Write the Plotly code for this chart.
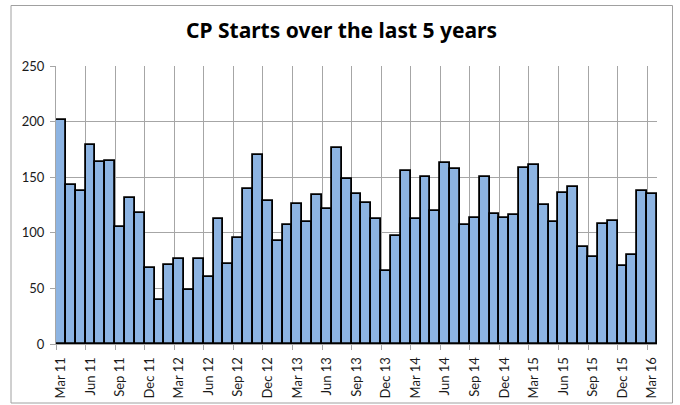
import plotly.graph_objects as go

months = [
    "Mar 11", "Apr 11", "May 11", "Jun 11", "Jul 11", "Aug 11", "Sep 11", "Oct 11", "Nov 11", "Dec 11",
    "Jan 12", "Feb 12", "Mar 12", "Apr 12", "May 12", "Jun 12", "Jul 12", "Aug 12", "Sep 12", "Oct 12",
    "Nov 12", "Dec 12", "Jan 13", "Feb 13", "Mar 13", "Apr 13", "May 13", "Jun 13", "Jul 13", "Aug 13",
    "Sep 13", "Oct 13", "Nov 13", "Dec 13", "Jan 14", "Feb 14", "Mar 14", "Apr 14", "May 14", "Jun 14",
    "Jul 14", "Aug 14", "Sep 14", "Oct 14", "Nov 14", "Dec 14", "Jan 15", "Feb 15", "Mar 15", "Apr 15",
    "May 15", "Jun 15", "Jul 15", "Aug 15", "Sep 15", "Oct 15", "Nov 15", "Dec 15", "Jan 16", "Feb 16",
    "Mar 16",
]

cp_starts = [
    201, 143, 138, 179, 164, 165, 105, 131, 118, 68,
    40, 71, 76, 49, 76, 60, 112, 72, 95, 139,
    170, 129, 93, 107, 126, 110, 134, 121, 176, 148,
    135, 127, 112, 66, 97, 156, 112, 150, 120, 163,
    157, 107, 113, 150, 117, 113, 116, 158, 161, 125,
    110, 136, 141, 87, 78, 108, 111, 70, 80, 138,
    135,
]

tick_labels = [
    "Mar 11", "Jun 11", "Sep 11", "Dec 11", "Mar 12", "Jun 12", "Sep 12", "Dec 12",
    "Mar 13", "Jun 13", "Sep 13", "Dec 13", "Mar 14", "Jun 14", "Sep 14", "Dec 14",
    "Mar 15", "Jun 15", "Sep 15", "Dec 15", "Mar 16",
]

y_ticks = [0, 50, 100, 150, 200, 250]

title_text = "CP Starts over the last 5 years"

FONT = "Lato"
TITLE_FONT = "Noto Sans"
GRID = "#a6a6a6"
W, H = 680, 405
ML, MR, MT, MB = 56, 23, 66, 61

n = len(months)
tick_idx = [months.index(t) for t in tick_labels]
boundaries = [i - 0.5 for i in tick_idx]

fig = go.Figure()
fig.add_trace(go.Bar(
    x=months,
    y=cp_starts,
    marker=dict(color="#8db4e2", line=dict(color="#000000", width=1.8)),
    width=1,
    hoverinfo="x+y",
    showlegend=False,
))
# empty helper trace so the boundary-grid axis is rendered
fig.add_trace(go.Scatter(
    x=[None], y=[None], xaxis="x2", yaxis="y",
    mode="markers", showlegend=False, hoverinfo="skip",
))

fig.update_layout(
    width=W, height=H,
    margin=dict(l=ML, r=MR, t=MT, b=MB, pad=0),
    paper_bgcolor="white",
    plot_bgcolor="white",
    bargap=0,
    title=dict(
        text="<b>" + title_text + "</b>",
        x=341.5 / W, xanchor="center", xref="container",
        y=1 - 31 / H, yanchor="middle", yref="container",
        font=dict(family=TITLE_FONT, size=21, color="#000000"),
    ),
    xaxis=dict(
        type="category",
        range=[-0.5, n - 0.5],
        tickmode="array",
        tickvals=tick_labels,
        ticktext=tick_labels,
        tickangle=-90,
        ticks="",
        showgrid=False,
        showline=True, linecolor=GRID, linewidth=1,
        tickfont=dict(family=FONT, size=13, color="#1a1a1a"),
        ticklabelstandoff=7,
        automargin=False,
    ),
    xaxis2=dict(
        overlaying="x",
        anchor="y",
        side="bottom",
        type="linear",
        range=[-0.5, n - 0.5],
        tickmode="array",
        tickvals=boundaries,
        showticklabels=False,
        showgrid=True, gridcolor=GRID, gridwidth=1,
        ticks="outside", ticklen=5, tickcolor=GRID, tickwidth=1,
        zeroline=False,
        automargin=False,
    ),
    yaxis=dict(
        range=[0, 250],
        tickmode="array",
        tickvals=y_ticks,
        showgrid=True, gridcolor=GRID, gridwidth=1,
        zeroline=False,
        showline=True, linecolor=GRID, linewidth=1,
        ticks="outside", ticklen=5, tickcolor=GRID,
        tickfont=dict(family=FONT, size=13, color="#1a1a1a"),
        ticklabelstandoff=3,
        automargin=False,
    ),
)

# chart-area border (paper coordinates derived from pixel layout)
pw, ph = W - ML - MR, H - MT - MB
def px_to_paper_x(px):
    return (px - ML) / pw
def px_to_paper_y(py):
    return (H - MB - py) / ph

fig.add_shape(
    type="rect", xref="paper", yref="paper",
    x0=px_to_paper_x(11), x1=px_to_paper_x(672.5),
    y0=px_to_paper_y(403), y1=px_to_paper_y(5.5),
    line=dict(color="#a0a0a0", width=1), fillcolor="rgba(0,0,0,0)",
    layer="above",
)

fig.write_html(
    "out.html",
    config={"displayModeBar": False},
    post_script="document.body.style.margin='0';document.body.style.padding='0';",
)
